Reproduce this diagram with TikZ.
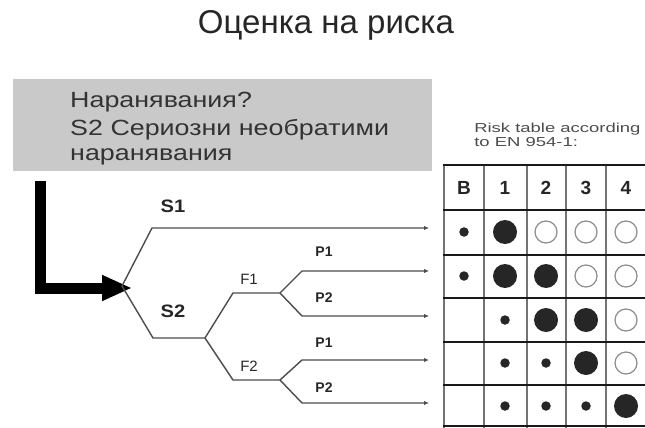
\documentclass[tikz,border=0pt]{standalone}
\usepackage{fontspec}
\setmainfont{Liberation Sans}
\usetikzlibrary{arrows.meta}
\begin{document}
\begin{tikzpicture}[x=1pt,y=-1pt,
  branch/.style={draw=black!70, line width=1.4pt, line join=round},
  endtip/.style={-{Latex[length=5pt,width=4.5pt]}},
  bigdot/.style={circle, fill=black!85, inner sep=0pt, minimum size=24pt},
  smalldot/.style={circle, fill=black!85, inner sep=0pt, minimum size=9.5pt},
  opendot/.style={circle, draw=black!45, line width=1.2pt, fill=white, inner sep=0pt, minimum size=22pt},
  hdr/.style={font=\bfseries\fontsize{19}{21}\selectfont, text=black!85},
  slabel/.style={font=\bfseries\fontsize{18}{20}\selectfont, text=black!85, xscale=1.12},
  flabel/.style={font=\fontsize{15}{17}\selectfont, text=black!85},
  plabel/.style={font=\bfseries\fontsize{14}{16}\selectfont, text=black!85},
  boxtext/.style={font=\fontsize{22}{26}\selectfont, text=black!80, anchor=west, inner sep=0pt, xscale=1.22},
  vline/.style={draw=black!55, line width=2pt},
  hline/.style={draw=black!90, line width=2.6pt}]
\useasboundingbox (0,0) rectangle (645,428);
% title
\node[font=\fontsize{33}{38}\selectfont, text=black!85] (title) at (326,25) {Оценка на риска};
% grey box
\node[fill=black!21, draw=none, minimum width=419pt, minimum height=92pt, anchor=north west, inner sep=0pt] (box) at (13,79) {};
\node[boxtext] (q1) at (70,102) {Наранявания?};
\node[boxtext] (q2) at (70,130) {S2 Сериозни необратими};
\node[boxtext] (q3) at (70,157) {наранявания};
% thick arrow
\coordinate (astart) at (40,181);
\coordinate (root) at (122,286);
\coordinate (atip) at (132,288);
\draw[line width=11pt, line join=miter, -{Triangle[length=30pt,width=24pt]}] (astart) |- (atip);
% tree
\coordinate (s1k) at (152,228);
\coordinate (e1) at (429,228);
\coordinate (s2k) at (153,338);
\coordinate (fb) at (205,338);
\coordinate (f1k) at (233,293);
\coordinate (f1b) at (280,293);
\coordinate (f2k) at (233,380);
\coordinate (f2b) at (280,380);
\coordinate (p11k) at (302,271);
\coordinate (e2) at (429,271);
\coordinate (p12k) at (302,316);
\coordinate (e3) at (429,316);
\coordinate (p21k) at (302,360);
\coordinate (e4) at (429,360);
\coordinate (p22k) at (302,403);
\coordinate (e5) at (429,403);
\draw[branch, endtip] (root) -- (s1k) -- (e1);
\draw[branch] (root) -- (s2k) -- (fb);
\draw[branch] (fb) -- (f1k) -- (f1b);
\draw[branch] (fb) -- (f2k) -- (f2b);
\draw[branch, endtip] (f1b) -- (p11k) -- (e2);
\draw[branch, endtip] (f1b) -- (p12k) -- (e3);
\draw[branch, endtip] (f2b) -- (p21k) -- (e4);
\draw[branch, endtip] (f2b) -- (p22k) -- (e5);
\node[slabel] (ls1) at (173,206) {S1};
\node[slabel] (ls2) at (173,311) {S2};
\node[flabel] (lf1) at (249,279) {F1};
\node[flabel] (lf2) at (249,366) {F2};
\node[plabel] (lp11) at (324,252) {P1};
\node[plabel] (lp12) at (324,298) {P2};
\node[plabel] (lp21) at (324,343) {P1};
\node[plabel] (lp22) at (324,388) {P2};
% table caption
\node[font=\fontsize{13}{13.5}\selectfont, text=black!70, anchor=north west, align=left, inner sep=0pt, xscale=1.42] (cap) at (474,123) {Risk table according\\to EN 954-1:};
% table grid
\foreach \x in {444,484,527,566,606} \draw[vline] (\x,164) -- (\x,428);
\foreach \y in {165,210,255,298,342,385,426} \draw[hline] (443,\y) -- (645,\y);
% header
\node[hdr] (hB) at (464,188) {B};
\node[hdr] (h1) at (505,188) {1};
\node[hdr] (h2) at (546,188) {2};
\node[hdr] (h3) at (586,188) {3};
\node[hdr] (h4) at (626,188) {4};
% row 1
\node[smalldot] (r1b) at (464,232) {};
\node[bigdot] (r11) at (505,232) {};
\node[opendot] (r12) at (546,232) {};
\node[opendot] (r13) at (586,232) {};
\node[opendot] (r14) at (626,232) {};
% row 2
\node[smalldot] (r2b) at (464,276) {};
\node[bigdot] (r21) at (505,276) {};
\node[bigdot] (r22) at (546,276) {};
\node[opendot] (r23) at (586,276) {};
\node[opendot] (r24) at (626,276) {};
% row 3
\node[smalldot] (r31) at (505,320) {};
\node[bigdot] (r32) at (546,320) {};
\node[bigdot] (r33) at (586,320) {};
\node[opendot] (r34) at (626,320) {};
% row 4
\node[smalldot] (r41) at (505,363) {};
\node[smalldot] (r42) at (546,363) {};
\node[bigdot] (r43) at (586,363) {};
\node[opendot] (r44) at (626,363) {};
% row 5
\node[smalldot] (r51) at (505,406) {};
\node[smalldot] (r52) at (546,406) {};
\node[smalldot] (r53) at (586,406) {};
\node[bigdot] (r54) at (626,406) {};
\end{tikzpicture}
\end{document}
